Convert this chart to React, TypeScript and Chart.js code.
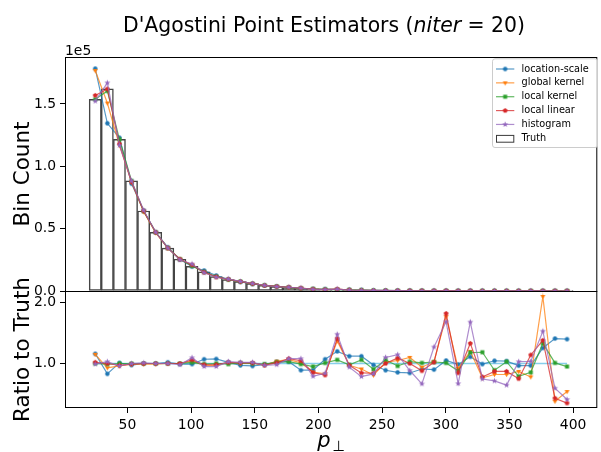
import React, { useEffect, useRef } from "react";
import { Chart, registerables } from "chart.js";
Chart.register(...registerables);

const FONT = "'DejaVu Sans', sans-serif";

// ---- data ----
const binCenters = [
  24.75, 34.25, 43.75, 53.25, 62.75, 72.25, 81.75, 91.25, 100.75, 110.25,
  119.75, 129.25, 138.75, 148.25, 157.75, 167.25, 176.75, 186.25, 195.75, 205.25,
  214.75, 224.25, 233.75, 243.25, 252.75, 262.25, 271.75, 281.25, 290.75, 300.25,
  309.75, 319.25, 328.75, 338.25, 347.75, 357.25, 366.75, 376.25, 385.75, 395.25,
];
const xTickValues = [50, 100, 150, 200, 250, 300, 350, 400];
const countTickValues = [0, 50000, 100000, 150000];
const ratioTickValues = [1.0, 2.0];

const truthCounts = [
  153800, 162100, 121700, 88300, 64200, 47100, 34400, 25500, 19800, 15400,
  11600, 9200, 7500, 5900, 4600, 3600, 2800, 2200, 1700, 1350,
  1050, 820, 650, 510, 400, 320, 250, 200, 160, 125,
  100, 80, 63, 50, 40, 32, 26, 20, 16, 13,
];

const ratioLocationScale = [
  1.16, 0.83, 1.01, 0.975, 1.0, 1.0, 1.02, 0.99, 0.99, 1.07,
  1.075, 1.02, 0.97, 0.96, 0.98, 1.03, 1.03, 0.89, 0.89, 1.07,
  1.2, 1.12, 1.12, 0.975, 0.89, 0.855, 0.845, 0.91, 0.9, 1.05,
  0.985, 1.11, 0.99, 1.045, 1.04, 0.965, 0.965, 1.255, 1.41, 1.4,
];
const ratioGlobalKernel = [
  1.15, 0.93, 0.96, 0.99, 0.99, 0.99, 1.0, 1.0, 1.04, 0.97,
  0.97, 1.02, 1.0, 1.01, 0.97, 1.04, 1.065, 1.01, 0.86, 0.83,
  1.37, 0.97, 0.91, 0.81, 1.02, 1.05, 1.1, 0.94, 1.03, 1.77,
  0.92, 1.2, 0.765, 0.82, 0.82, 0.87, 0.78, 2.1, 0.38, 0.54,
];
const ratioLocalKernel = [
  1.0, 0.99, 1.0, 1.0, 1.0, 1.0, 1.0, 1.0, 1.02, 0.99,
  1.0, 0.99, 1.01, 1.0, 0.99, 1.02, 1.03, 0.99, 0.95, 1.01,
  1.06, 0.98, 1.06, 0.905, 1.06, 0.96, 1.03, 1.01, 1.025, 1.01,
  0.88, 1.18, 1.185, 0.89, 1.03, 0.79, 0.855, 1.33, 1.01, 0.95,
];
const ratioLocalLinear = [
  1.02, 1.0, 0.97, 0.99, 1.0, 1.0, 1.0, 1.0, 1.06, 0.98,
  0.98, 1.02, 1.01, 1.01, 0.975, 1.01, 1.08, 1.045, 0.85, 0.81,
  1.41, 0.97, 0.845, 0.84, 1.0, 1.09, 1.0, 0.88, 1.02, 1.82,
  0.845, 1.33, 0.78, 0.87, 0.87, 0.75, 1.14, 1.38, 0.43, 0.35,
];
const ratioHistogram = [
  0.99, 1.03, 0.96, 1.0, 1.01, 1.0, 1.0, 0.98, 1.095, 0.95,
  0.95, 1.03, 1.02, 1.02, 0.97, 0.98, 1.08, 1.08, 0.79, 0.84,
  1.48, 0.94, 0.785, 0.83, 1.1, 1.145, 0.885, 0.665, 1.27, 1.685,
  0.67, 1.68, 0.745, 0.715, 0.645, 1.03, 1.035, 1.53, 0.595, 0.41,
];

const seriesNames = ["location-scale", "global kernel", "local kernel", "local linear", "histogram"];
const seriesColors = ["#1f77b4", "#ff7f0e", "#2ca02c", "#d62728", "#9467bd"];
const seriesMarkers = ["circle", "triangleDown", "square", "pentagon", "star"];
const seriesRatios = [ratioLocationScale, ratioGlobalKernel, ratioLocalKernel, ratioLocalLinear, ratioHistogram];
const truthLabel = "Truth";

function withAlpha(hex: string, a: number) {
  const r = parseInt(hex.slice(1, 3), 16), g = parseInt(hex.slice(3, 5), 16), b = parseInt(hex.slice(5, 7), 16);
  return `rgba(${r},${g},${b},${a})`;
}

function makeMarker(kind: string, color: string): HTMLCanvasElement {
  const s = 9;
  const c = document.createElement("canvas");
  c.width = s; c.height = s;
  const g = c.getContext("2d")!;
  g.fillStyle = color;
  const cx = s / 2, cy = s / 2;
  g.beginPath();
  if (kind === "circle") {
    g.arc(cx, cy, 2.2, 0, Math.PI * 2);
  } else if (kind === "square") {
    g.rect(cx - 2, cy - 2, 4, 4);
  } else if (kind === "triangleDown") {
    const r = 2.8;
    g.moveTo(cx, cy + r);
    g.lineTo(cx - r * 0.866, cy - r * 0.5);
    g.lineTo(cx + r * 0.866, cy - r * 0.5);
  } else if (kind === "pentagon") {
    const r = 2.6;
    for (let k = 0; k < 5; k++) {
      const a = -Math.PI / 2 + (k * 2 * Math.PI) / 5;
      const px = cx + r * Math.cos(a), py = cy + r * Math.sin(a);
      if (k === 0) g.moveTo(px, py); else g.lineTo(px, py);
    }
  } else if (kind === "star") {
    const R = 3.2, r = 1.3;
    for (let k = 0; k < 10; k++) {
      const a = -Math.PI / 2 + (k * Math.PI) / 5;
      const rr = k % 2 === 0 ? R : r;
      const px = cx + rr * Math.cos(a), py = cy + rr * Math.sin(a);
      if (k === 0) g.moveTo(px, py); else g.lineTo(px, py);
    }
  }
  g.closePath();
  g.fill();
  return c;
}

export default function App() {
  const ref = useRef<HTMLCanvasElement | null>(null);

  useEffect(() => {
    if (!ref.current) return;
    const markers = seriesMarkers.map((m, i) => makeMarker(m, seriesColors[i]));

    const datasets: any[] = [];
    seriesNames.forEach((name, si) => {
      const ratio = seriesRatios[si];
      const common = {
        type: "line",
        borderColor: withAlpha(seriesColors[si], 0.75),
        backgroundColor: seriesColors[si],
        borderWidth: 1.2,
        pointStyle: markers[si],
        pointRadius: 2.5,
        pointHoverRadius: 2.5,
        tension: 0,
        fill: false,
        order: 5 - si,
      };
      datasets.push({
        ...common,
        label: name,
        yAxisID: "y",
        data: binCenters.map((x, i) => ({ x, y: truthCounts[i] * ratio[i] })),
      });
      datasets.push({
        ...common,
        label: name + " ratio",
        yAxisID: "y2",
        data: binCenters.map((x, i) => ({ x, y: ratio[i] })),
      });
    });
    datasets.push({
      type: "line",
      label: "unity",
      yAxisID: "y2",
      data: binCenters.map((x) => ({ x, y: 1 })),
      borderColor: "#87ceeb",
      borderWidth: 1.3,
      pointRadius: 0,
      order: 9,
    });
    datasets.push({
      type: "bar",
      label: truthLabel,
      yAxisID: "y",
      data: binCenters.map((x, i) => ({ x, y: truthCounts[i] })),
      backgroundColor: "rgba(0,0,0,0)",
      borderColor: "#444444",
      borderWidth: 0.8,
      borderSkipped: false,
      barPercentage: 1,
      categoryPercentage: 1,
      order: 10,
    });

    const tickFont = { family: FONT, size: 13.9 };
    const gridOpts = { display: true, drawOnChartArea: false, drawTicks: true, tickLength: 5, color: "#000", lineWidth: 1 };

    const overlay = {
      id: "overlay",
      afterDraw(chart: any) {
        const { ctx, chartArea } = chart;
        const ys = chart.scales.y, ys2 = chart.scales.y2;
        ctx.save();
        // frames
        ctx.strokeStyle = "#000";
        ctx.lineWidth = 1;
        ctx.strokeRect(chartArea.left + 0.5, ys.top + 0.5, chartArea.right - chartArea.left - 1, ys2.bottom - ys.top - 1);
        ctx.beginPath();
        ctx.moveTo(chartArea.left, Math.round(ys.bottom) + 0.5);
        ctx.lineTo(chartArea.right, Math.round(ys.bottom) + 0.5);
        ctx.stroke();
        // title
        const pieces: [string, string][] = [
          ["D'Agostini Point Estimators (", `20.4px ${FONT}`],
          ["niter", `italic 20.4px ${FONT}`],
          [" = ", `20.4px ${FONT}`],
          ["20)", `20.4px ${FONT}`],
        ];
        let total = 0;
        for (const [t, f] of pieces) { ctx.font = f; total += ctx.measureText(t).width; }
        let tx = 324 - total / 2;
        ctx.fillStyle = "#000";
        ctx.textBaseline = "alphabetic";
        ctx.textAlign = "left";
        for (const [t, f] of pieces) { ctx.font = f; ctx.fillText(t, tx, 32); tx += ctx.measureText(t).width; }
        // offset text
        ctx.font = `13.9px ${FONT}`;
        ctx.fillText("1e5", chartArea.left, chartArea.top - 2);
        // x label
        const cxm = (chartArea.left + chartArea.right) / 2;
        ctx.font = `italic 21px ${FONT}`;
        const wp = ctx.measureText("p").width;
        ctx.font = `14.5px ${FONT}`;
        const ws = ctx.measureText("\u22a5").width;
        let lx = cxm - (wp + ws + 2) / 2;
        ctx.font = `italic 21px ${FONT}`;
        ctx.fillText("p", lx, 447);
        ctx.font = `14.5px ${FONT}`;
        ctx.fillText("\u22a5", lx + wp + 2, 451);
        // y labels
        ctx.font = `21.5px ${FONT}`;
        ctx.textAlign = "center";
        ctx.textBaseline = "middle";
        for (const [s, t] of [[ys, "Bin Count"], [ys2, "Ratio to Truth"]] as [any, string][]) {
          ctx.save();
          ctx.translate(23, (s.top + s.bottom) / 2);
          ctx.rotate(-Math.PI / 2);
          ctx.fillText(t, 0, 0);
          ctx.restore();
        }
        // legend
        const L = chartArea.right - 105.3, T = chartArea.top + 1.3, W = 105, H = 88.7;
        ctx.beginPath();
        ctx.roundRect(L + 0.5, T + 0.5, W, H, 2.5);
        ctx.fillStyle = "rgba(255,255,255,0.8)";
        ctx.fill();
        ctx.strokeStyle = "#cccccc";
        ctx.lineWidth = 1;
        ctx.stroke();
        ctx.font = `9.72px ${FONT}`;
        ctx.textAlign = "left";
        ctx.textBaseline = "middle";
        const hx0 = L + 4, hx1 = L + 22.3, txx = L + 29.6;
        const rows = [...seriesNames, truthLabel];
        rows.forEach((name, i) => {
          const yy = T + 10.7 + i * 13.86;
          if (i < seriesNames.length) {
            ctx.strokeStyle = withAlpha(seriesColors[i], 0.75);
            ctx.lineWidth = 1.2;
            ctx.beginPath();
            ctx.moveTo(hx0, yy);
            ctx.lineTo(hx1, yy);
            ctx.stroke();
            const m = markers[i];
            ctx.drawImage(m, (hx0 + hx1) / 2 - m.width / 2, yy - m.height / 2);
          } else {
            ctx.fillStyle = "#fff";
            ctx.fillRect(hx0, yy - 3.4, hx1 - hx0, 6.8);
            ctx.strokeStyle = "#3a3a3a";
            ctx.lineWidth = 1;
            ctx.strokeRect(hx0 + 0.5, yy - 3.4 + 0.5, hx1 - hx0 - 1, 6.8);
          }
          ctx.fillStyle = "#000";
          ctx.fillText(name, txx, yy);
        });
        ctx.restore();
      },
    };

    const chart = new Chart(ref.current, {
      type: "line",
      data: { datasets },
      options: {
        animation: false,
        responsive: false,
        devicePixelRatio: 1,
        events: [],
        layout: { padding: { top: 57, right: 3, bottom: 0, left: 0 } },
        plugins: { legend: { display: false }, tooltip: { enabled: false }, title: { display: false } },
        scales: {
          x: {
            type: "linear",
            min: 1,
            max: 419,
            offset: false,
            afterBuildTicks: (s: any) => { s.ticks = xTickValues.map((v) => ({ value: v })); },
            afterFit: (s: any) => { s.height = 44; },
            grid: { ...gridOpts, offset: false },
            border: { display: false },
            ticks: { font: tickFont, color: "#000", padding: 4, maxRotation: 0, autoSkip: false, callback: (v: any) => String(v) },
          },
          y2: {
            type: "linear",
            stack: "panels",
            stackWeight: 1,
            position: "left",
            min: 0.27,
            max: 2.19,
            afterBuildTicks: (s: any) => { s.ticks = ratioTickValues.map((v) => ({ value: v })); },
            afterFit: (s: any) => { s.width = 65; },
            grid: gridOpts,
            border: { display: false },
            ticks: { font: tickFont, color: "#000", padding: 4, callback: (v: any) => Number(v).toFixed(1) },
          },
          y: {
            type: "linear",
            stack: "panels",
            stackWeight: 2,
            position: "left",
            min: 0,
            max: 187700,
            afterBuildTicks: (s: any) => { s.ticks = countTickValues.map((v) => ({ value: v })); },
            afterFit: (s: any) => { s.width = 65; },
            grid: gridOpts,
            border: { display: false },
            ticks: { font: tickFont, color: "#000", padding: 4, callback: (v: any) => (Number(v) / 1e5).toFixed(1) },
          },
        },
      } as any,
      plugins: [overlay],
    });
    return () => chart.destroy();
  }, []);

  return (
    <div style={{ position: "absolute", left: 0, top: 0, width: 601, height: 452, background: "#fff" }}>
      <canvas ref={ref} width={601} height={452} style={{ display: "block", width: 601, height: 452 }} />
    </div>
  );
}
